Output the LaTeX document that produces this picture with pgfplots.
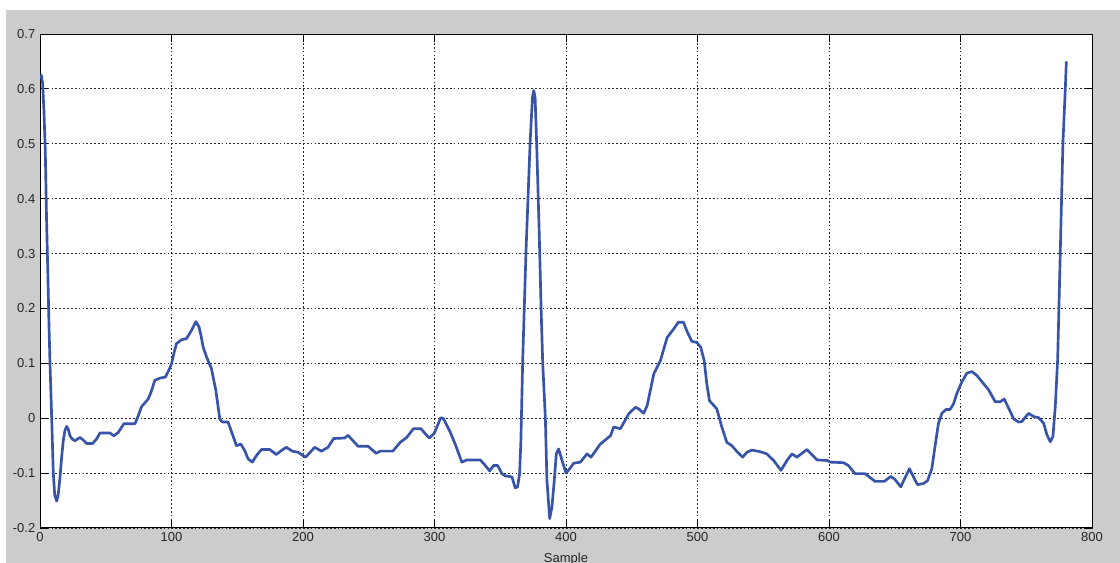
\documentclass[border=0pt]{standalone}
\usepackage{pgfplots}
\pgfplotsset{compat=1.18}
\usepackage{fontspec}
\setmainfont{Liberation Sans}
\definecolor{figgrey}{RGB}{204,204,204}
\definecolor{ecgblue}{RGB}{56,84,168}
\pgfplotstableread{
x y
0 0.620
1 0.625
2 0.610
3 0.560
4 0.490
5 0.360
6 0.260
6.8 0.173
7.6 0.100
8.9 0.000
10.1 -0.100
11.2 -0.140
12.7 -0.151
13.8 -0.140
15.2 -0.108
16.5 -0.070
17.7 -0.041
19 -0.022
20.3 -0.015
21.5 -0.020
22.8 -0.032
24.5 -0.038
26.6 -0.041
28.5 -0.038
30.4 -0.035
33 -0.040
35.4 -0.046
40 -0.046
43 -0.038
45.6 -0.027
53.2 -0.027
56.2 -0.032
59.5 -0.026
63.8 -0.010
72.2 -0.010
74.5 0.003
77.2 0.021
82.3 0.035
84.5 0.048
87.3 0.069
91.1 0.073
95.4 0.075
97.5 0.085
100 0.099
102 0.120
103.8 0.136
107.6 0.143
111.4 0.145
115.2 0.160
118.5 0.176
121 0.166
122.5 0.150
124 0.130
126.6 0.112
130.4 0.090
133.7 0.051
136.7 -0.001
138.7 -0.007
143 -0.007
146.3 -0.029
149.4 -0.050
152.7 -0.047
155.7 -0.059
158.2 -0.074
161.5 -0.080
164.6 -0.068
168.4 -0.057
174.7 -0.057
179.7 -0.066
183.5 -0.059
187.3 -0.053
191.9 -0.060
196.2 -0.062
202 -0.071
208.9 -0.053
214 -0.060
219 -0.053
223.3 -0.037
231.7 -0.036
234.2 -0.031
241.8 -0.051
249.4 -0.051
255.7 -0.064
258.6 -0.060
268.3 -0.060
273.9 -0.044
278.9 -0.035
284 -0.019
289.6 -0.019
295.9 -0.036
299.7 -0.028
304.8 0.001
306.9 -0.001
311.9 -0.025
315.7 -0.047
320.8 -0.080
324.6 -0.076
334.8 -0.076
338.6 -0.086
341.9 -0.096
344.9 -0.086
348 -0.086
351.3 -0.101
353.8 -0.105
358.9 -0.107
361.4 -0.127
363.2 -0.125
364.7 -0.101
365.7 -0.041
367.1 0.108
369.6 0.305
372.7 0.502
374.5 0.585
375.5 0.597
376.5 0.585
377.7 0.500
379.5 0.350
381 0.206
382.3 0.100
384.3 0.000
385.5 -0.113
387.6 -0.183
389.3 -0.162
391.1 -0.113
392.6 -0.065
394.4 -0.056
397 -0.077
400 -0.100
402.8 -0.092
405.8 -0.082
410.9 -0.080
416 -0.065
419 -0.071
426.1 -0.047
433.8 -0.032
436.3 -0.016
441.4 -0.019
447.7 0.008
452.8 0.020
455.3 0.017
459.1 0.009
461.7 0.023
466.8 0.081
471.8 0.105
476.9 0.147
481.7 0.162
485.5 0.175
489.3 0.175
491.9 0.159
495.7 0.140
499.5 0.138
502.5 0.129
505.1 0.105
507.1 0.062
509.1 0.032
514.7 0.017
518.5 -0.016
522.3 -0.044
526.1 -0.050
530.5 -0.062
534.3 -0.071
537.6 -0.062
541.4 -0.058
547.7 -0.061
552.8 -0.065
557.9 -0.077
563.5 -0.095
568 -0.077
571.8 -0.065
575.6 -0.071
583.2 -0.057
590.9 -0.076
598.5 -0.077
601 -0.080
611 -0.081
614.7 -0.086
619.8 -0.101
627.4 -0.101
635 -0.115
642.1 -0.115
647 -0.106
650.3 -0.112
654.6 -0.125
657.1 -0.112
661.2 -0.092
664.7 -0.109
667.3 -0.121
671.8 -0.119
674.9 -0.114
678.2 -0.092
680.7 -0.050
683.2 -0.010
685.8 0.009
689.1 0.016
692.1 0.016
694.7 0.026
697.2 0.045
701 0.066
704.8 0.082
708.6 0.085
712.4 0.078
717.5 0.063
721.3 0.052
726.4 0.030
730.2 0.030
733.2 0.035
736.5 0.019
740.4 -0.001
744.2 -0.007
746.7 -0.006
751.8 0.009
755.6 0.003
759.4 0.001
763.2 -0.009
765.7 -0.030
768.3 -0.043
770.3 -0.033
772.1 0.022
773.9 0.108
775.9 0.305
777.9 0.502
779.7 0.600
780.5 0.650
}\ecg
\begin{document}
\begin{tikzpicture}
\useasboundingbox (0pt,0pt) rectangle (840pt,422.25pt);
\clip (0pt,0pt) rectangle (840pt,422.25pt);
\fill[white] (0pt,0pt) rectangle (840pt,422.25pt);
\fill[figgrey] (4.5pt,0pt) rectangle (840pt,414.75pt);
\begin{axis}[
  at={(30pt,26.25pt)}, anchor=south west,
  width=789pt, height=370.5pt, scale only axis,
  xmin=0, xmax=800, ymin=-0.2, ymax=0.7,
  xtick={0,100,...,800},
  ytick={-0.2,-0.1,0,0.1,0.2,0.3,0.4,0.5,0.6,0.7},
  yticklabels={-0.2,-0.1,0,0.1,0.2,0.3,0.4,0.5,0.6,0.7},
  xticklabels={0,100,200,300,400,500,600,700,800},
  tick align=inside, major tick length=6pt,
  tick style={black, line width=0.6pt},
  xtick pos=both, ytick pos=both,
  axis line style={black, line width=0.75pt},
  axis background/.style={fill=white},
  grid=major,
  major grid style={black!85, line width=0.6pt, dash pattern=on 1.3pt off 1.6pt},
  ticklabel style={font=\fontsize{9.75}{11}\selectfont, text=black!85},
  xlabel={Sample},
  xlabel style={at={(axis description cs:0.5,0)}, anchor=north, yshift=-15pt, font=\fontsize{9.75}{11}\selectfont, text=black!85},
]
\addplot[ecgblue, line width=2pt, line join=round, mark=none] table[x=x, y=y] {\ecg};
\end{axis}
\end{tikzpicture}
\end{document}
